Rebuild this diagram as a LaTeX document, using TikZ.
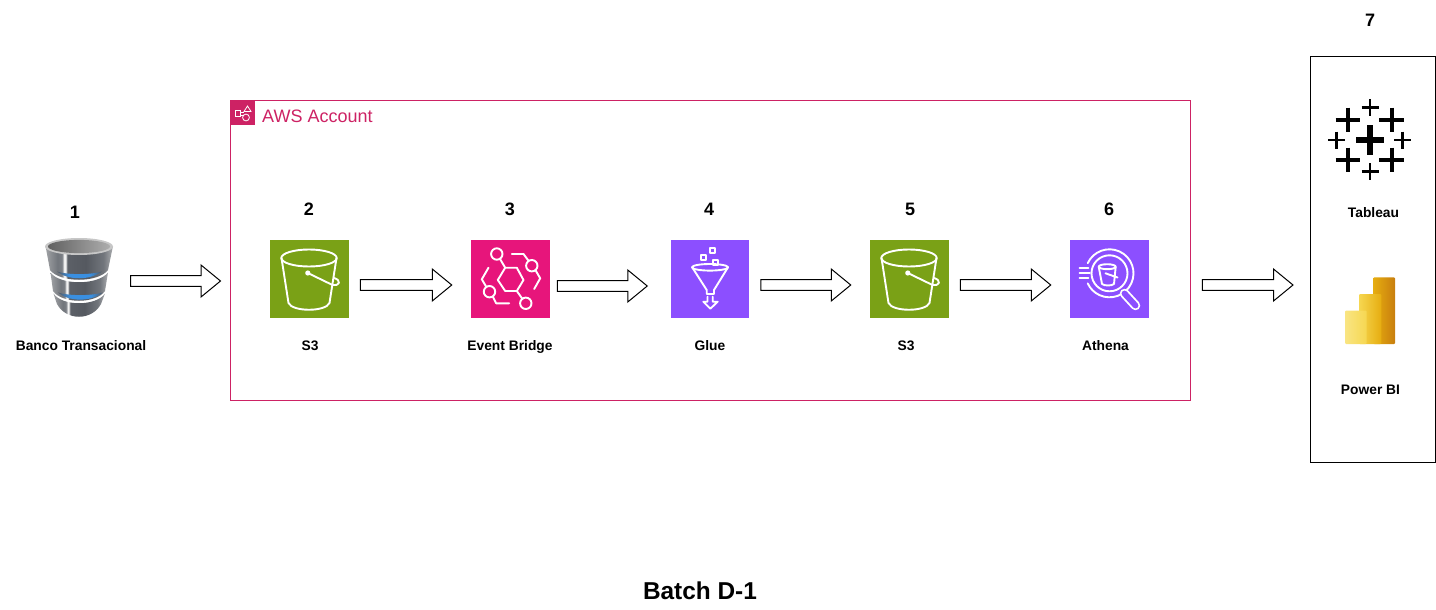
\documentclass[tikz,border=0pt]{standalone}
\usepackage{fontspec}
\setmainfont{Liberation Sans}
\usetikzlibrary{calc}

\definecolor{s3green}{HTML}{7AA116}
\definecolor{ebpink}{HTML}{E7157B}
\definecolor{awspurple}{HTML}{8C4FFF}
\definecolor{accountred}{HTML}{CD2264}
\definecolor{metalA}{HTML}{A0A2A5}
\definecolor{metalB}{HTML}{72767C}
\definecolor{metalC}{HTML}{7C8086}
\definecolor{metalD}{HTML}{F2F2F2}
\definecolor{metalE}{HTML}{5C6067}
\definecolor{metalF}{HTML}{555960}
\definecolor{metalG}{HTML}{ABADB0}
\definecolor{dbblue}{HTML}{3A8FE0}
\definecolor{biA}{HTML}{F9E583}
\definecolor{biB}{HTML}{F6D751}
\definecolor{biC}{HTML}{E6AD10}
\definecolor{biD}{HTML}{C87E0E}

% metal of the database cylinder, left to right
\pgfdeclarehorizontalshading{dbmetal}{100bp}{
  color(0bp)=(metalA); color(25bp)=(metalA); color(34bp)=(metalB);
  color(37.5bp)=(metalC); color(38.5bp)=(metalD); color(40bp)=(metalD);
  color(41bp)=(metalE); color(55bp)=(metalF); color(68bp)=(metalB);
  color(75bp)=(metalG); color(100bp)=(metalG)}
% blue glow of the rings
\pgfdeclarehorizontalshading{dbglow}{100bp}{
  color(0bp)=(metalF); color(25bp)=(metalF); color(38bp)=(dbblue);
  color(62bp)=(dbblue); color(75bp)=(metalF); color(100bp)=(metalF)}

\tikzset{
  iconbox/.style={minimum size=78.5pt, inner sep=0pt, outer sep=0pt},
  iconline/.style={draw=white, line width=1.9pt, line join=round, line cap=round},
  numlabel/.style={font=\fontsize{18}{20}\selectfont\bfseries, inner sep=0pt},
  namelabel/.style={font=\fontsize{13.8}{16}\selectfont\bfseries, inner sep=0pt, text height=10pt, text depth=0pt},
  blockarrow/.style={draw=black, fill=white, line width=1pt, line join=miter, to path={
    ($(\tikztostart)+(0,-5.3)$) -- ($(\tikztotarget)+(-19.5,-5.3)$) -- ($(\tikztotarget)+(-19.5,-16)$)
    -- (\tikztotarget) -- ($(\tikztotarget)+(-19.5,16)$) -- ($(\tikztotarget)+(-19.5,5.3)$)
    -- ($(\tikztostart)+(0,5.3)$) -- cycle}},
  tabcross/.style={draw=black, line cap=butt},
  pics/bucketicon/.style={code={
    \draw[iconline] (-0.5,-21) ellipse (27.7 and 8.5);
    \draw[iconline] (-28,-21) -- (-21,24) .. controls (-17,33) and (16,33) .. (20,24) -- (27,-21);
    \fill[white] (-1.7,-6) circle (2.6);
    \draw[iconline] (-1.7,-6) -- (22,5.5) .. controls (31,8) and (32,1) .. (24.5,-1);
  }},
  pics/eventicon/.style={code={
    \draw[iconline] (-12.7,1) -- (-5.3,-11.3) -- (6.3,-11.3) -- (13,1) -- (6.3,12) -- (-5.3,12) -- cycle;
    \draw[iconline] (-13.7,-25) circle (5.7);
    \draw[iconline] (21.3,-13.3) circle (5.7);
    \draw[iconline] (-21,12.7) circle (5.7);
    \draw[iconline] (15.3,24.3) circle (5.7);
    \draw[iconline] (-10.3,-19.7) -- (-5.3,-11.3);
    \draw[iconline] (6.3,12) -- (12,20);
    \draw[iconline] (1.3,-25) -- (13,-25) -- (18,-18.3);
    \draw[iconline] (25.3,-8.3) -- (29.7,-0.7) -- (23.7,10);
    \draw[iconline] (-22,-11.3) -- (-28.7,0.3) -- (-24.3,7.7);
    \draw[iconline] (-17.7,17.7) -- (-14.3,24.3) -- (-1.3,24.3);
  }},
  pics/glueicon/.style={code={
    \draw[iconline] (0,-11.7) ellipse (18 and 3.3);
    \draw[iconline] (-17.8,-11.7) -- (-3.3,11) -- (-3.3,15) -- (4,15) -- (4,11) -- (18,-11.7);
    \draw[iconline] (-2.5,17.7) -- (-2.5,22.7) -- (-6.7,22.7) -- (0.3,29.7) -- (7.7,22.7) -- (2.7,22.7) -- (2.7,17.7);
    \draw[iconline] (0.2,-30.8) rectangle (5.2,-25.8);
    \draw[iconline] (-8.8,-23.8) rectangle (-3.8,-18.8);
    \draw[iconline] (2.8,-19.2) rectangle (7.8,-14.2);
  }},
  pics/athenaicon/.style={code={
    \draw[iconline] ($(0,-5.7)+(205:24)$) arc (205:515:24);
    \draw[iconline] (-30,-10.7) -- (-21,-10.7);
    \draw[iconline] (-30,-5.7) -- (-19.5,-5.7);
    \draw[iconline] (-30,-0.7) -- (-21,-0.7);
    \draw[draw=white, line width=9.5pt, line cap=round] (15,14.5) -- (26,26.5);
    \draw[draw=awspurple, line width=5.8pt, line cap=round] (15,14.5) -- (26,26.5);
    \fill[awspurple] (0,-5.7) circle (17);
    \draw[iconline] (0,-5.7) circle (18);
    \draw[iconline] (-2.3,-12.3) ellipse (8.5 and 2.5);
    \draw[iconline] (-10.8,-12.3) -- (-7.5,5) .. controls (-5,7) and (2,7) .. (4.5,5) -- (6.2,-12.3);
    \draw[iconline] (-4,-5.7) -- (8,-1.5);
  }},
}

\begin{document}
\begin{tikzpicture}[x=1pt, y=-1pt]
  \useasboundingbox (0,0) rectangle (1436,610);

  % AWS account frame
  \draw[accountred, line width=1pt] (230.5,100.5) rectangle (1190.5,400.5);
  \fill[accountred] (230.5,100.5) rectangle (255,125);
  \draw[white, line width=0.8pt] (235,110) rectangle (240.7,116.7);
  \draw[white, line width=0.8pt] (240.7,112) -- (244,112) (240.7,115) -- (243.5,115);
  \draw[white, line width=0.8pt] (246,117.5) circle (3.4);
  \draw[white, line width=0.8pt] (244,111.5) -- (247.5,106) -- (251,111.5) -- cycle;
  \node[font=\fontsize{18}{20}\selectfont, text=accountred, inner sep=0pt, anchor=west] (account) at (262,116.5) {AWS Account};

  % service boxes
  \node[iconbox, fill=s3green] (s3a) at (309.5,279) {};
  \node[iconbox, fill=ebpink] (bridge) at (510.5,279) {};
  \node[iconbox, fill=awspurple] (glue) at (710,279) {};
  \node[iconbox, fill=s3green] (s3b) at (909.5,279) {};
  \node[iconbox, fill=awspurple] (athena) at (1109.5,279) {};
  \pic at (s3a) {bucketicon};
  \pic at (bridge) {eventicon};
  \pic at (glue) {glueicon};
  \pic at (s3b) {bucketicon};
  \pic at (athena) {athenaicon};

  % database, drawn over an empty node
  \node[minimum width=68pt, minimum height=80pt, inner sep=0pt, outer sep=0pt] (db) at (79,277.5) {};
  \shade[shading=dbmetal] (45.5,246) -- (50,270) .. controls (60,283) and (98,283) .. (108,270) -- (113,246) -- cycle;
  \shade[shading=dbmetal] (50.5,272.5) -- (53,291) .. controls (62,304) and (96,304) .. (105,291) -- (108,272.5) .. controls (98,285.5) and (60,285.5) .. (50.5,272.5) -- cycle;
  \shade[shading=dbmetal] (53.5,293.5) -- (57,304) .. controls (66,321) and (92,321) .. (101,304) -- (105,293.5) .. controls (96,306.5) and (62,306.5) .. (53.5,293.5) -- cycle;
  \shade[shading=dbglow] (57,271.5) .. controls (68,280.5) and (90,280.5) .. (102,271.5) .. controls (90,275) and (68,275) .. (57,271.5) -- cycle;
  \shade[shading=dbglow] (58,292.5) .. controls (69,302) and (91,302) .. (103,292.5) .. controls (91,296) and (69,296) .. (58,292.5) -- cycle;
  \fill[black!22] (79,246.5) ellipse (34 and 8.5);
  \shade[left color=black!62, right color=black!32] (79,246.5) ellipse (31 and 6.6);

  % tableau
  \foreach \cx/\cy in {1348/120, 1391.7/120, 1348/160, 1391.7/160}
    \draw[tabcross, line width=4.4pt] (\cx-12.3,\cy) -- (\cx+12.3,\cy) (\cx,\cy-12.3) -- (\cx,\cy+12.3);
  \foreach \cx/\cy in {1370/107.7, 1370/171.7, 1336.7/140, 1402.7/140}
    \draw[tabcross, line width=2.9pt] (\cx-8.5,\cy) -- (\cx+8.5,\cy) (\cx,\cy-8.5) -- (\cx,\cy+8.5);
  \draw[tabcross, line width=5.2pt] (1356,140) -- (1384,140) (1370,125) -- (1370,155);

  % power bi
  \shade[left color=biC, right color=biD, rounded corners=1pt] (1373.3,277.3) rectangle (1395,344);
  \shade[left color=biB, right color=biC, rounded corners=1pt] (1359,294) rectangle (1381.3,344);
  \shade[left color=biA, right color=biB, rounded corners=1pt] (1345,310.7) rectangle (1366.7,344);

  % tools box
  \node[draw=black, line width=1pt, minimum width=125pt, minimum height=405pt, inner sep=0pt, outer sep=0pt] (tools) at (1373,259.5) {};

  % block arrows
  \draw[blockarrow] ([shift={(17.5,3.5)}]db.east) to ([shift={(-49.75,2)}]s3a.west);
  \draw[blockarrow] ([shift={(11.5,6)}]s3a.east) to ([shift={(-19.5,6)}]bridge.west);
  \draw[blockarrow] ([shift={(7.5,7)}]bridge.east) to ([shift={(-23.5,7)}]glue.west);
  \draw[blockarrow] ([shift={(11.5,6)}]glue.east) to ([shift={(-19.5,6)}]s3b.west);
  \draw[blockarrow] ([shift={(11.5,6)}]s3b.east) to ([shift={(-19.5,6)}]athena.west);
  \draw[blockarrow] ([shift={(53.5,6)}]athena.east) to ([shift={(-17.5,25.5)}]tools.west);

  % numbers
  \node[numlabel] (n1) at (75,212) {1};
  \node[numlabel] (n2) at (309,209.5) {2};
  \node[numlabel] (n3) at (510,209.5) {3};
  \node[numlabel] (n4) at (709,209.5) {4};
  \node[numlabel] (n5) at (910,209.5) {5};
  \node[numlabel] (n6) at (1109,209.5) {6};
  \node[numlabel] (n7) at (1370,20) {7};

  % names
  \node[namelabel] (ldb) at (81,345) {Banco Transacional};
  \node[namelabel] (ls3a) at (310,345) {S3};
  \node[namelabel] (lbridge) at (510,345) {Event Bridge};
  \node[namelabel] (lglue) at (710,345) {Glue};
  \node[namelabel] (ls3b) at (906,345) {S3};
  \node[namelabel] (lathena) at (1105.5,345) {Athena};
  \node[namelabel] (ltableau) at (1373.5,212) {Tableau};
  \node[namelabel] (lpower) at (1370.5,389) {Power BI};

  \node[font=\fontsize{24.4}{26}\selectfont\bfseries, inner sep=0pt] (title) at (700,591) {Batch D-1};
\end{tikzpicture}
\end{document}
